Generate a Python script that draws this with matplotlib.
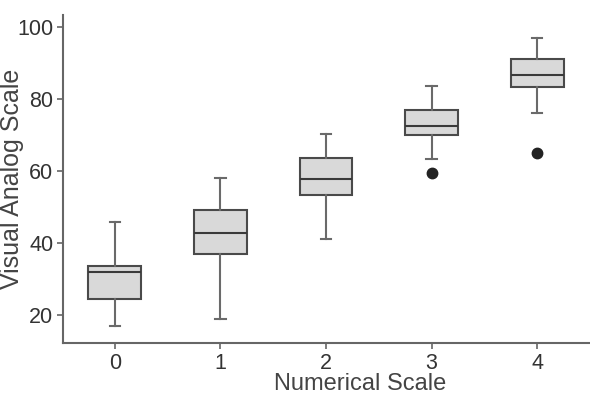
import matplotlib.pyplot as plt

plt.rcParams['font.family'] = ['Liberation Sans', 'DejaVu Sans']

categories = [0, 1, 2, 3, 4]
whislo = [16.7, 18.7, 41.1, 63.3, 76.0]
q1 = [24.2, 36.8, 53.3, 70.0, 83.3]
med = [31.7, 42.6, 57.7, 72.4, 86.5]
q3 = [33.4, 49.0, 63.4, 76.7, 91.0]
whishi = [45.8, 58.0, 70.2, 83.4, 96.9]
fliers = [[], [], [], [59.4], [64.9]]

stats = []
for i, c in enumerate(categories):
    stats.append(dict(label=str(c), whislo=whislo[i], q1=q1[i], med=med[i],
                      q3=q3[i], whishi=whishi[i], fliers=fliers[i]))

fig = plt.figure(figsize=(5.9, 3.96), dpi=100)
ax = fig.add_axes([0.107, 0.133, 0.893, 0.829])

edge = '#4a4a4a'
ax.bxp(stats, positions=categories, widths=0.5, patch_artist=True,
       boxprops=dict(facecolor='#d9d9d9', edgecolor=edge, linewidth=1.5),
       medianprops=dict(color='#3a3a3a', linewidth=1.5),
       whiskerprops=dict(color='#6a6a6a', linewidth=1.5),
       capprops=dict(color='#6a6a6a', linewidth=1.5),
       flierprops=dict(marker='o', markerfacecolor='#222222',
                       markeredgecolor='#222222', markersize=7.5),
       capwidths=0.1)

ax.set_xlim(-0.49, 4.5)
ax.set_ylim(12, 103.2)
ax.set_yticks([20, 40, 60, 80, 100])
ax.set_xticks(categories)
ax.set_xticklabels([str(c) for c in categories])

for s in ['top', 'right']:
    ax.spines[s].set_visible(False)
for s in ['left', 'bottom']:
    ax.spines[s].set_color('#666666')
    ax.spines[s].set_linewidth(1.5)

ax.tick_params(axis='both', colors='#666666', length=4, width=1.2,
               labelsize=15.5, labelcolor='#333333', pad=3)

ax.set_ylabel('Visual Analog Scale', fontsize=18, color='#444444')
ax.set_xlabel('Numerical Scale', fontsize=17, color='#444444', va='baseline')
ax.yaxis.set_label_coords(-0.075, 0.5)
ax.xaxis.set_label_coords(0.564, -0.142)

fig.savefig('out.png', dpi=100)
